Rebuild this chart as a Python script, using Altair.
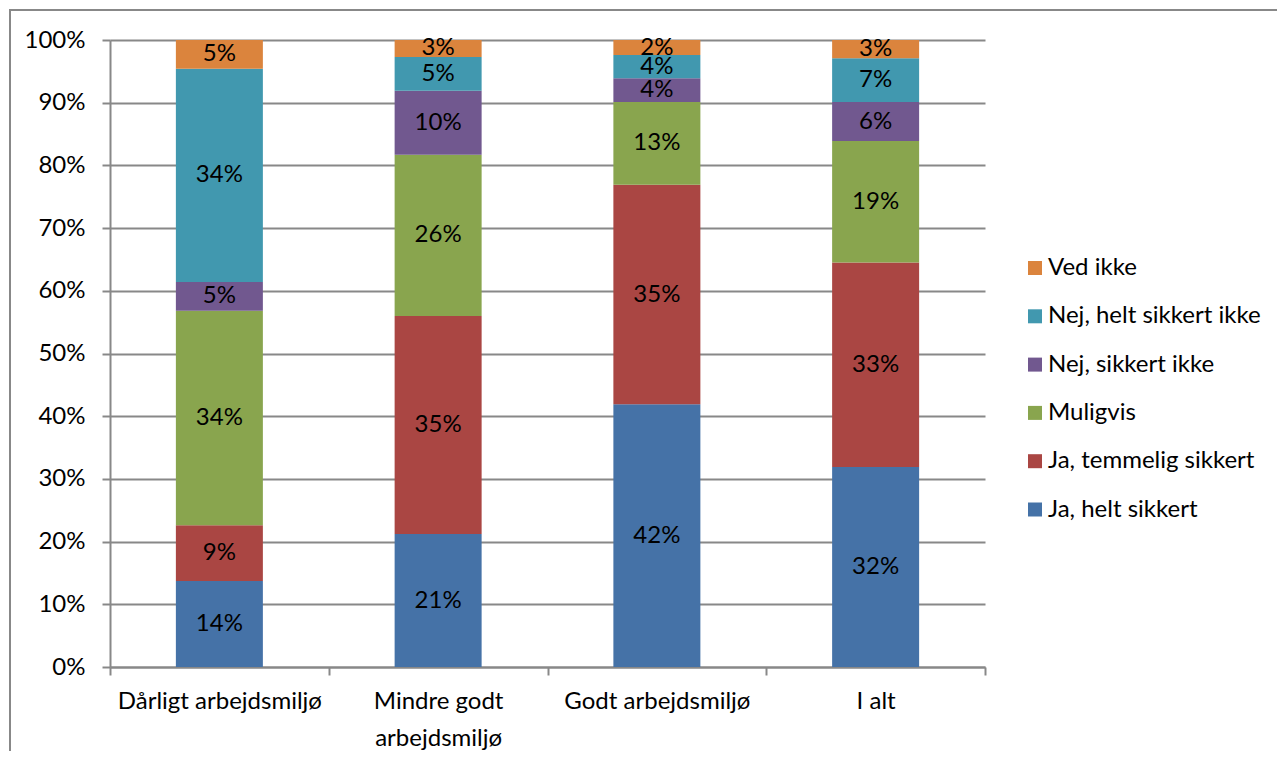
import altair as alt
import pandas as pd

groups = ["Dårligt arbejdsmiljø", "Mindre godt arbejdsmiljø", "Godt arbejdsmiljø", "I alt"]
answers = ["Ja, helt sikkert", "Ja, temmelig sikkert", "Muligvis",
           "Nej, sikkert ikke", "Nej, helt sikkert ikke", "Ved ikke"]
colors = ["#4572A7", "#AA4643", "#89A54E", "#71588F", "#4198AF", "#DB843D"]

ja_helt = [13.7, 21.2, 41.9, 31.9]
ja_temmelig = [8.9, 34.8, 35.0, 32.6]
muligvis = [34.2, 25.7, 13.2, 19.4]
nej_sikkert = [4.6, 10.2, 3.8, 6.2]
nej_helt = [34.0, 5.4, 3.7, 7.0]
ved_ikke = [4.6, 2.7, 2.4, 2.9]

series = [ja_helt, ja_temmelig, muligvis, nej_sikkert, nej_helt, ved_ikke]
rows = []
for k, (ans, vals) in enumerate(zip(answers, series)):
    for g, v in zip(groups, vals):
        rows.append({"group": g, "answer": ans, "order": k, "value": v})
df = pd.DataFrame(rows)

FONT = "Lato"
FS = 24
GRAY = "#888888"

base = alt.Chart(df).transform_stack(
    stack="value", groupby=["group"], as_=["start", "end"],
    sort=[alt.SortField("order", order="ascending")]
).transform_calculate(
    mid="(datum.start + datum.end) / 2",
    label="format(datum.value, '.0f') + '%'"
)

xenc = alt.X(
    "group:N", sort=groups, title=None,
    scale=alt.Scale(paddingInner=0, paddingOuter=0),
    axis=alt.Axis(
        labelAngle=0, tickBand="extent", tickSize=8, tickColor=GRAY, tickWidth=2,
        domainColor=GRAY, domainWidth=2, grid=False, labelPadding=14, labelLimit=400,
        labelFont=FONT, labelFontSize=FS, labelColor="#000000", labelLineHeight=37,
        labelExpr="datum.label == 'Mindre godt arbejdsmiljø' ? ['Mindre godt', 'arbejdsmiljø'] : datum.label",
    ),
)

bars = base.mark_bar(size=87).encode(
    x=xenc,
    y=alt.Y(
        "start:Q", title=None,
        scale=alt.Scale(domain=[0, 100], nice=False),
        axis=alt.Axis(
            values=[0, 10, 20, 30, 40, 50, 60, 70, 80, 90, 100],
            labelExpr="datum.value + '%'", grid=True, gridColor=GRAY, gridWidth=2,
            domainColor=GRAY, domainWidth=2, tickColor=GRAY, tickWidth=2, tickSize=8,
            labelPadding=17, labelFont=FONT, labelFontSize=FS, labelColor="#000000",
        ),
    ),
    y2="end:Q",
    color=alt.Color(
        "answer:N", title=None,
        scale=alt.Scale(domain=answers[::-1], range=colors[::-1]),
        legend=alt.Legend(
            orient="none", legendX=913, legendY=216, padding=0,
            symbolType="square", symbolSize=196, symbolStrokeWidth=0,
            labelFont=FONT, labelFontSize=FS, labelColor="#000000",
            labelOffset=1, rowPadding=24.3, labelLimit=400,
        ),
    ),
)

texts = base.mark_text(font=FONT, fontSize=FS, color="#000000", baseline="middle").encode(
    x=alt.X("group:N", sort=groups),
    y=alt.Y("mid:Q"),
    text="label:N",
)

border = alt.Chart(df).mark_rect(fill=None, stroke=GRAY, strokeWidth=2).encode(
    x=alt.value(-100), x2=alt.value(1200), y=alt.value(-30), y2=alt.value(760)
)

chart = alt.layer(border, bars, texts).properties(
    width=875, height=627,
    autosize=alt.AutoSizeParams(type="none"),
    padding={"left": 102, "top": 32, "right": 292, "bottom": 84},
).configure_view(stroke=None)

chart.save("out.html", embed_options={"renderer": "svg", "actions": False})
